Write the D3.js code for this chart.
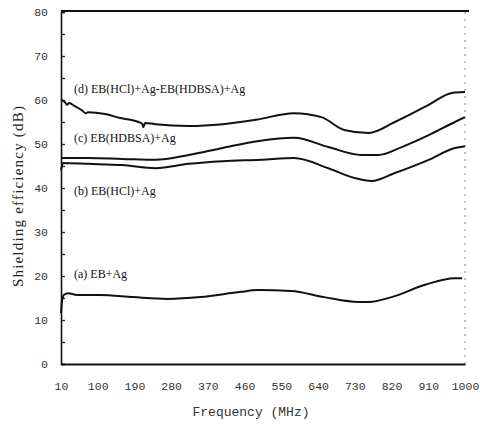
<!DOCTYPE html>
<html>
<head>
<meta charset="utf-8">
<script src="https://cdn.jsdelivr.net/npm/d3@7"></script>
<style>
  body { margin: 0; background: #fff; }
  .tick text { font-family: "Liberation Mono", monospace; font-size: 11.5px; fill: #333; }
  .lbl { font-family: "Liberation Serif", serif; font-size: 12px; fill: #111; }
</style>
</head>
<body>
<div id="viz"></div>
<script>
// frequency ticks (MHz) and dB ticks
var xTicks = [10, 100, 190, 280, 370, 460, 550, 640, 730, 820, 910, 1000];
var yTicks = [0, 5, 10, 15, 20, 25, 30, 35, 40, 45, 50, 55, 60, 65, 70, 75, 80];

// (a) EB+Ag
var freqA = [10, 13, 18, 27, 49, 106, 187, 271, 352, 451, 493, 574, 655, 739, 764, 820, 902, 975, 993];
var dbA   = [11.6, 14.6, 15.8, 16.1, 15.7, 15.7, 15.2, 14.8, 15.2, 16.4, 16.8, 16.6, 15.2, 14.1, 14.1, 15.2, 18.0, 19.5, 19.5];

// (b) EB(HCl)+Ag
var freqB = [10, 15, 76, 160, 242, 323, 406, 500, 581, 665, 729, 771, 828, 911, 975, 1000];
var dbB   = [44.0, 45.7, 45.5, 45.2, 44.5, 45.5, 46.1, 46.4, 46.8, 44.5, 42.3, 41.6, 43.4, 46.4, 49.1, 49.5];

// (c) EB(HDBSA)+Ag
var freqC = [10, 76, 160, 242, 323, 406, 495, 581, 665, 746, 788, 845, 911, 975, 1000];
var dbC   = [46.8, 46.8, 46.6, 46.4, 47.5, 49.1, 50.7, 51.4, 49.3, 47.5, 47.5, 49.3, 52.0, 55.0, 56.1];

// (d) EB(HCl)+Ag-EB(HDBSA)+Ag
var freqD = [10, 20, 24, 30, 44, 62, 70, 76, 118, 155, 200, 209, 212, 216, 241, 323, 406, 488, 581, 648, 704, 764, 828, 911, 968, 1000];
var dbD   = [60.0, 59.5, 58.9, 59.3, 58.6, 57.6, 57.0, 57.2, 56.8, 55.9, 55.0, 54.6, 53.8, 54.8, 54.5, 54.1, 54.5, 55.5, 57.0, 56.1, 53.2, 52.5, 55.0, 58.9, 61.6, 61.8];

var labels = ["(a) EB+Ag", "(b) EB(HCl)+Ag", "(c) EB(HDBSA)+Ag", "(d) EB(HCl)+Ag-EB(HDBSA)+Ag"];
var labelDb = [19.5, 38.5, 50.5, 61.5];

var width = 480, height = 425;
var margin = { t: 12, l: 61, b: 61, r: 15 };

var svg = d3.select('#viz').append('svg')
  .attr('width', width)
  .attr('height', height);

var x = d3.scaleLinear().domain([10, 1000]).range([margin.l, width - margin.r]);
var y = d3.scaleLinear().domain([0, 80]).range([height - margin.b, margin.t]);

// frame: solid top, dashed faint right
svg.append('line')
  .attr('x1', x(10)).attr('x2', x(1000) + 4)
  .attr('y1', y(80) - 1).attr('y2', y(80) - 1)
  .attr('stroke', '#111').attr('stroke-width', 2);
svg.append('line')
  .attr('x1', x(1000)).attr('x2', x(1000))
  .attr('y1', y(80)).attr('y2', y(0))
  .attr('stroke', '#888').attr('stroke-width', 1)
  .attr('stroke-dasharray', '2,5');

// y axis with inward ticks every 5
var yAxis = d3.axisLeft(y)
  .tickValues(yTicks)
  .tickSize(-4)
  .tickPadding(13)
  .tickFormat(function(v) { return v % 10 ? '' : v; });
var gy = svg.append('g')
  .attr('transform', `translate(${margin.l},0)`)
  .call(yAxis);
gy.select('.domain').attr('stroke', '#111').attr('stroke-width', 1.6);
gy.selectAll('.tick line').attr('stroke', '#222').attr('stroke-width', 1.3);

// x axis, no ticks
var xAxis = d3.axisBottom(x)
  .tickValues(xTicks)
  .tickSize(0)
  .tickPadding(18)
  .tickFormat(d3.format('d'));
var gx = svg.append('g')
  .attr('transform', `translate(0,${y(0)})`)
  .call(xAxis);
gx.select('.domain').attr('stroke', '#111').attr('stroke-width', 2.2);

// curves
var line = d3.line()
  .x(function(d) { return x(d[0]); })
  .y(function(d) { return y(d[1]); })
  .curve(d3.curveMonotoneX);

var series = [[freqA, dbA], [freqB, dbB], [freqC, dbC], [freqD, dbD]];
series.forEach(function(s) {
  svg.append('path')
    .datum(d3.zip(s[0], s[1]))
    .attr('d', line)
    .attr('fill', 'none')
    .attr('stroke', '#111')
    .attr('stroke-width', 2);
});

// curve labels
labels.forEach(function(t, i) {
  svg.append('text')
    .attr('class', 'lbl')
    .attr('x', 74)
    .attr('y', y(labelDb[i]))
    .text(t);
});

// axis titles
svg.append('text')
  .attr('transform', `translate(23,${(y(0) + y(80)) / 2 + 8}) rotate(-90)`)
  .attr('text-anchor', 'middle')
  .style('font-family', '"Liberation Serif", serif')
  .style('font-size', '15px')
  .style('letter-spacing', '1.2px')
  .style('fill', '#222')
  .text('Shielding efficiency (dB)');

svg.append('text')
  .attr('x', 251)
  .attr('y', 416)
  .attr('text-anchor', 'middle')
  .style('font-family', '"Liberation Mono", monospace')
  .style('font-size', '13px')
  .style('fill', '#333')
  .text('Frequency (MHz)');
</script>
</body>
</html>
